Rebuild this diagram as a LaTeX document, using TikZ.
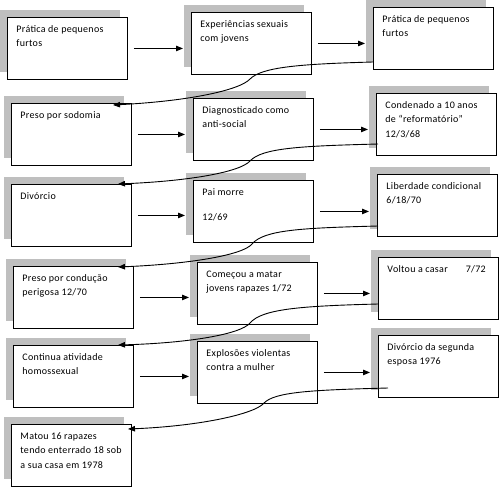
\documentclass[tikz,border=0pt]{standalone}
\usepackage{fontspec}
\setmainfont{Carlito}[LetterSpace=3]
\usetikzlibrary{shadows,arrows.meta}
\tikzset{
  box/.style={draw=black, fill=white, line width=0.9pt, anchor=north west,
    inner xsep=9pt, inner ysep=5pt, minimum width=120pt, minimum height=62pt,
    copy shadow={shadow xshift=-7pt, shadow yshift=7pt, fill=black!25, draw=none},
    font=\fontsize{10}{14.5}\selectfont},
  arr/.style={line width=0.9pt, -{Triangle[length=7pt,width=5.5pt]}},
  conn/.style={line width=0.9pt, -{Triangle[length=7pt,width=5.5pt]}}
}
\newcommand{\bx}[1]{\parbox[t][50pt][t]{102pt}{\rule{0pt}{9pt}#1}}
\begin{document}
\begin{tikzpicture}[x=1pt,y=-1pt]
\useasboundingbox (0,0) rectangle (500,488);
% row 1
\node[box] (b1) at (7,17) {\bx{Prática de pequenos\\furtos}};
\node[box] (b2) at (191,12) {\bx{Experiências sexuais\\com jovens}};
\node[box] (b3) at (373,7) {\bx{Prática de pequenos\\furtos}};
% row 2
\node[box] (b4) at (11,103) {\bx{Preso por sodomia}};
\node[box] (b5) at (193,98) {\bx{Diagnosticado como\\anti-social}};
\node[box] (b6) at (376,93) {\bx{Condenado a 10 anos\\de “reformatório”\\12/3/68}};
% row 3
\node[box] (b7) at (11,184) {\bx{Divórcio}};
\node[box] (b8) at (193,180) {\bx{Pai morre\\[10.5pt]12/69}};
\node[box] (b9) at (377,174) {\bx{Liberdade condicional\\6/18/70}};
% row 4
\node[box] (b10) at (13,266) {\bx{Preso por condução\\perigosa 12/70}};
\node[box] (b11) at (197,262) {\bx{Começou a matar\\jovens rapazes 1/72}};
\node[box] (b12) at (378,257) {\bx{Voltou a casar\hspace{18pt}7/72}};
% row 5
\node[box] (b13) at (13,345) {\bx{Continua atividade\\homossexual}};
\node[box] (b14) at (197,341) {\bx{Explosões violentas\\contra a mulher}};
\node[box] (b15) at (378,335) {\bx{Divórcio da segunda\\esposa 1976}};
% row 6
\node[box] (b16) at (11,424) {\bx{Matou 16 rapazes\\tendo enterrado 18 sob\\a sua casa em 1978}};

% horizontal arrows
\foreach \a/\b in {b1/b2,b2/b3,b4/b5,b5/b6,b7/b8,b8/b9,b10/b11,b11/b12,b13/b14,b14/b15}
  \draw[arr] ([xshift=6pt]\a.east) -- ([xshift=-8pt]\b.west |- \a.east);

% curved connectors
\coordinate (s1) at (373,62);  \coordinate (e1) at (113,105);
\coordinate (s2) at (378,144); \coordinate (e2) at (118,184);
\coordinate (s3) at (378,226); \coordinate (e3) at (118,267);
\coordinate (s4) at (378,304); \coordinate (e4) at (118,345);
\coordinate (s5) at (388,388); \coordinate (e5) at (128,429);
\draw[conn] (s1) .. controls (300,64) and (262,67) .. (250,79) .. controls (240,90) and (190,101) .. (e1);
\draw[conn] (s2) .. controls (300,146) and (262,148) .. (250,161) .. controls (240,172) and (190,181) .. (e2);
\draw[conn] (s3) .. controls (300,228) and (264,230) .. (252,244) .. controls (243,255) and (190,264) .. (e3);
\draw[conn] (s4) .. controls (300,306) and (262,309) .. (250,323) .. controls (241,334) and (190,343) .. (e4);
\draw[conn] (s5) .. controls (310,390) and (275,392) .. (264,403) .. controls (255,414) and (200,426) .. (e5);
\end{tikzpicture}
\end{document}
